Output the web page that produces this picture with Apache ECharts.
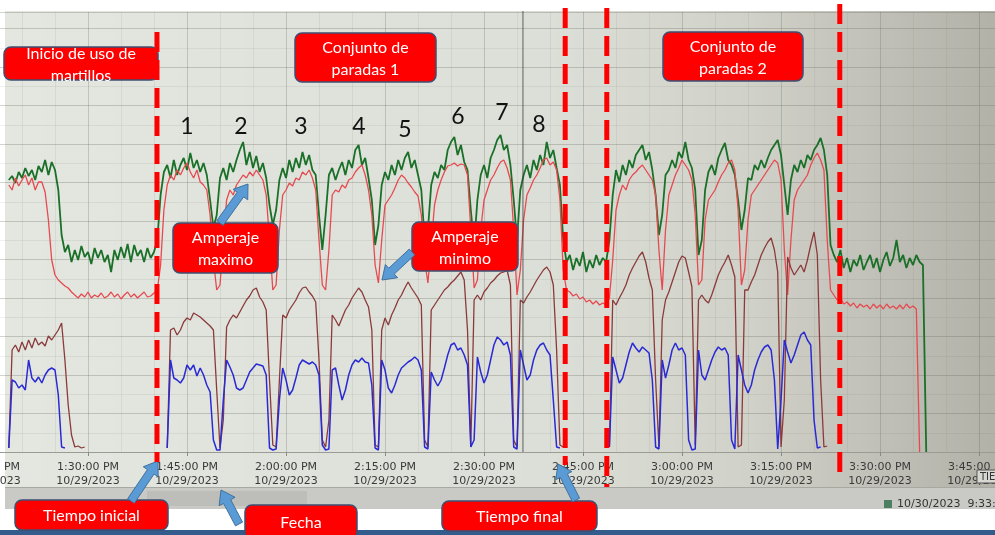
<!DOCTYPE html>
<html>
<head>
<meta charset="utf-8">
<title>Amperaje martillos 10/29/2023</title>
<script src="https://cdn.jsdelivr.net/npm/echarts@6/dist/echarts.min.js"></script>
<style>
  html, body { margin: 0; padding: 0; background: #fff; }
  #chart { width: 995px; height: 535px; }
</style>
</head>
<body>
<div id="chart"></div>
<script>
// one sample every 30 s, first sample at 1:18:00 PM (minutes since midnight)
const startMinute = 798
const stepMinutes = 0.5
const dateText = '10/29/2023'

const greenAmps = [
  68, 69, 67.25, 70, 68.5, 71, 69, 70.5, 68, 71.5,
  70, 73, 69.25, 72.5, 70.5, 65.5, 54.25, 50, 51.75, 47.5,
  50.5, 48, 51.5, 48.75, 50, 47, 51, 48.5, 50.5, 47.5,
  49.25, 45, 50.5, 48, 51.25, 48.5, 52, 47.5, 51.75, 49,
  50.5, 47.5, 51, 48.5, 50, 53, 64.25, 70, 71.75, 68.5,
  73, 69.25, 71.75, 73.5, 70.5, 74.75, 71, 73, 70, 72.25,
  69.25, 63, 56, 59.25, 68.5, 71, 68, 72.25, 70, 73,
  75.5, 77.5, 71.75, 75, 71, 74, 70, 72.25, 68.5, 61.75,
  56.75, 60.5, 68, 71, 68.5, 73, 70, 73.5, 71, 75,
  71.75, 74.25, 70.5, 69.25, 59.25, 50.5, 59.25, 69.25, 71, 68,
  70.5, 72.5, 69.25, 73, 71, 75.5, 76.75, 71.75, 73.5, 68.5,
  63, 51.75, 56.75, 66.75, 70, 68, 71.75, 69.25, 73, 70.5,
  73.5, 75, 71, 73, 69.25, 65.5, 53, 55.5, 66.75, 70,
  68.5, 71.75, 70.5, 75.5, 77.5, 78.75, 74.25, 76.75, 72.5, 70.5,
  60.5, 51.75, 63, 69.25, 71.75, 68.5, 73.5, 75.5, 78, 79.25,
  75.5, 76.75, 71.75, 63, 53, 65.5, 69.25, 71.75, 68.5, 73,
  70.5, 74.25, 71.75, 77.5, 73.5, 75.5, 71, 66.75, 53, 47.5,
  49.25, 45.5, 48.5, 46.5, 50, 45, 48, 46, 49.25, 46.75,
  48.5, 47.5, 53, 64.25, 70.5, 67.5, 71.75, 69.25, 73, 71,
  74.25, 75.5, 76.75, 73, 75, 70.5, 64.25, 54.25, 59.25, 69.25,
  70.5, 73, 71, 75, 73.5, 77.5, 73, 71, 65.5, 49.25,
  53, 65.5, 70, 71.75, 69.25, 73.5, 75.5, 77.25, 73, 71.75,
  69.25, 63, 55.5, 60.5, 68.5, 68, 71.75, 70.5, 73, 71,
  73.5, 75.5, 76.75, 78, 74.25, 66.75, 59.25, 68, 71.75, 70,
  73, 71, 74.25, 73, 75.5, 76.75, 78.5, 75.5, 69.25, 51.75,
  49.25, 47.5, 50.5, 46, 48.5, 45, 48, 46.5, 49.25, 45.5,
  47.5, 49.25, 46, 48.5, 45, 48, 50, 46.5, 48.5, 53,
  47.5, 49.25, 46, 48.5, 46.75, 49.25, 47.5, 46.75, 0
]

const redAmps = [
  66.75, 65.5, 68.5, 66.5, 68, 69.25, 66.75, 68.5, 65.5, 67.5,
  67.5, 65, 58, 48, 44.25, 43, 42.25, 41.5, 41, 40,
  39.25, 38.5, 39.5, 38.75, 40, 38.5, 39.25, 38.75, 39.75, 38.5,
  39, 40, 38.75, 39.5, 38.25, 39.25, 40, 38.75, 39.5, 38.5,
  39.25, 40, 38.75, 39, 39.75, 40.5, 46.75, 60.5, 66.75, 69.25,
  68, 70.5, 69.25, 71, 72.25, 70, 68.5, 70.5, 67.5, 66.75,
  65.5, 59.25, 48, 40.5, 41.75, 53, 63, 65.5, 64.25, 66.75,
  68, 69.25, 68.5, 70, 69, 70.5, 69.25, 68, 64.25, 53,
  40.5, 41.75, 55.5, 64.25, 65.5, 67.25, 66.5, 68.5, 68, 70,
  69.25, 70.5, 68.5, 65.5, 53, 41.75, 40.5, 50.5, 64.25, 65.5,
  65, 66.75, 66, 68, 68.5, 70, 71, 71.75, 69.25, 65.5,
  59.25, 46.75, 42.25, 53, 61.75, 63, 64.25, 66, 68, 69.25,
  68.5, 67.25, 66.25, 65, 64, 59.25, 48, 42.25, 51.75, 61.75,
  65.5, 68, 70, 71.5, 71.75, 72.25, 71.5, 72, 71.75, 69.25,
  55.5, 41, 43, 55.5, 63, 65.5, 68, 69.25, 71, 72.5,
  73, 71, 68, 55.5, 39.25, 45.5, 58, 64.25, 66, 68,
  69.25, 71, 73, 73.5, 71.75, 72.5, 70.5, 63, 45.5, 40.5,
  40, 39, 39.5, 38.25, 38.75, 37.5, 38, 37, 37.75, 36.75,
  37.25, 36.75, 38.5, 48, 60.5, 64.25, 66.75, 65.5, 68, 69.25,
  70, 71, 71.75, 70.5, 69.25, 68, 64.25, 50.5, 40.5, 55.5,
  64.25, 66.75, 69.25, 71, 73, 71.75, 70.5, 68, 59.25, 41.75,
  43, 58, 63, 64.25, 65.5, 67.5, 69.25, 70.5, 72.25, 73,
  70.5, 60.5, 41.75, 45.5, 58, 64.25, 65.5, 66.75, 68, 69.25,
  70.5, 71.75, 73, 72.25, 68, 50.5, 39.25, 53, 63, 65.5,
  66.75, 68, 69.25, 71.75, 73.5, 74.75, 73, 70.5, 53, 40.5,
  39.25, 38, 38.5, 37, 37.5, 36.5, 37.25, 36, 37, 36.25,
  36.75, 35.75, 37, 36, 36.75, 35.75, 37, 36, 36.5, 35.75,
  36.75, 35.75, 37, 36, 36.5, 35.75, 0, null, null
]

const brownAmps = [
  1, 25.5, 26.75, 25, 27.5, 25.5, 28, 26, 28.5, 26.75,
  27.5, 26.5, 29, 28, 29.25, 30.5, 32.25, 23, 11.75, 4.25,
  1.25, 1.5, 1, 1.25, null, null, null, null, null, null,
  null, null, null, null, null, null, null, null, null, null,
  null, null, null, null, null, null, null, null, 1, 30.5,
  31, 29.25, 30.5, 32.5, 33.5, 33, 34.75, 34.25, 33.75, 33,
  32.25, 31.5, 30.5, 15.5, 1, 8, 31.25, 33, 34.25, 33.5,
  35, 36.5, 38, 39, 40.5, 41, 38.75, 37.5, 35.5, 18,
  1.75, 1.25, 18, 34.25, 33.5, 35.5, 36.75, 38, 39.75, 41,
  41.25, 40, 39, 37.5, 23, 3, 1.25, 8, 34.25, 33,
  31.5, 33.5, 35.5, 36.75, 38.5, 39.75, 41, 40, 38, 36.25,
  30.5, 1.75, 1.25, 30.5, 33.5, 31.75, 34.25, 36, 38, 39.25,
  41, 42.5, 41, 39.75, 38.5, 36.75, 3, 1.25, 35.5, 36.75,
  38, 39.25, 40.5, 41.25, 42.25, 43, 44, 45, 43, 30.5,
  1.25, 38, 39.25, 38, 40, 41, 42.25, 43, 44, 44.75,
  45, 45.5, 41.75, 3, 1.25, 38, 37.25, 38.75, 40, 41.5,
  43, 44.25, 45.5, 46.25, 45, 41.75, 25.5, 1.75, 1.25, null,
  null, null, null, null, null, null, null, null, null, null,
  null, null, 1.25, 38, 36.75, 38.5, 40, 41.75, 44.25, 46,
  47.5, 49, 50, 47.5, 43.5, 40.5, 18, 1.25, 33, 38,
  40, 42.5, 45, 47.5, 49, 48.5, 45, 41.25, 1.75, 38,
  39.25, 38, 37.25, 39.25, 41.75, 44.25, 46, 47.5, 49.25, 46.75,
  43.75, 1.25, 1.75, 40.5, 40.5, 42.5, 44.25, 46.75, 49.25, 51,
  52.5, 53.5, 50.5, 45, 1.25, 13, 48.75, 46, 44.25, 45.5,
  46.75, 45, 48, 51.75, 55, 49.25, 18, 1.25, 1.5, null,
  null, null, null, null, null, null, null, null, null, null,
  null, null, null, null, null, null, null, null, null, null,
  null, null, null, null, null, null, null, null, null
]

const blueAmps = [
  1, 18, 17.5, 16, 16.75, 15.5, 23, 18.5, 17.5, 18.75,
  17.25, 19.25, 20.5, 21, 20.5, 14.25, 1.25, 1, null, null,
  null, null, null, null, null, null, null, null, null, null,
  null, null, null, null, null, null, null, null, null, null,
  null, null, null, null, null, null, null, null, 1, 23,
  18.5, 18, 17.25, 18.5, 21.75, 20.5, 21.75, 19, 21, 19.25,
  16.75, 15, 3, 0.5, 0.5, 13, 23, 21.25, 19.25, 16,
  15.5, 16, 18, 20, 21, 22, 21.75, 21.5, 19.25, 1,
  0.5, 0.75, 13, 21, 18, 14.25, 15.5, 18.5, 21.75, 23,
  22.5, 22, 22.5, 21.75, 19.25, 1.75, 0.5, 0.75, 20.5, 21,
  16.75, 13, 15.5, 19.25, 21.75, 23, 22.5, 23.5, 22.5, 22.25,
  16.75, 1, 0.5, 23, 20.5, 16, 14.75, 16.75, 19.25, 21,
  21.75, 22.5, 23, 23.75, 23, 20.5, 1.25, 0.75, 20, 18,
  16.5, 18, 21, 24.25, 26.75, 27.25, 25.5, 26, 24.25, 21.75,
  1.25, 3, 23.75, 20, 17.25, 19.25, 23, 26.75, 28.75, 28,
  26.75, 27.5, 24.25, 1.25, 0.75, 25.5, 21.75, 18, 19.25, 23,
  25.5, 26.75, 27.25, 25.5, 24.25, 13, 1.25, 1, null, null,
  null, null, null, null, null, null, null, null, null, null,
  null, null, 1.25, 23.75, 20.5, 17.25, 18.5, 21.75, 25, 27.25,
  26, 25, 26.25, 25.5, 24.75, 18, 1.25, 0.75, 23, 18.5,
  21.75, 25.5, 27.25, 25.5, 26, 24.25, 3, 0.5, 0.75, 25.5,
  19.25, 18, 20.5, 23, 25, 26.25, 25.5, 26, 24.25, 3,
  0.75, 24.25, 20.5, 16.75, 14.75, 16.75, 20.5, 23, 25, 26.25,
  26.75, 25.5, 18, 0.75, 13, 28, 25, 22.25, 24.25, 26.75,
  29.25, 30, 28, 26.75, 8, 1, 1.25, null, null, null,
  null, null, null, null, null, null, null, null, null, null,
  null, null, null, null, null, null, null, null, null, null,
  null, null, null, null, null, null, null, null, null
]

// red dashed markers and the trend cursor (minutes since midnight)
const markerMinutes = [820.45, 882.3, 888.6, 923.9]
const cursorMinute = 875.9
const stopLabels = ['1', '2', '3', '4', '5', '6', '7', '8']

const toPairs = (values) => values.map((v, i) => [startMinute + i * stepMinutes, v])

const fmtTime = (m) => {
  const h = Math.floor(m / 60)
  const mm = Math.round(m % 60)
  const h12 = h > 12 ? h - 12 : h
  return `${h12}:${String(mm).padStart(2, '0')}:00 ${h >= 12 ? 'PM' : 'AM'}\n${dateText}`
}

const line = (name, values, color, width) => ({
  name,
  type: 'line',
  data: toPairs(values),
  showSymbol: false,
  symbol: 'none',
  connectNulls: false,
  lineStyle: { color, width },
  itemStyle: { color },
})

const chart = echarts.init(document.getElementById('chart'))

chart.setOption({
  animation: false,
  backgroundColor: '#ffffff',
  grid: { left: -11, right: 0, top: 12, bottom: 83, containLabel: false, outerBoundsMode: 'none' },
  xAxis: {
    type: 'value',
    min: 795,
    max: 947.42,
    interval: 15,
    axisLine: { show: true, lineStyle: { color: '#9b9b95' } },
    axisTick: { show: true, length: 4, lineStyle: { color: '#8a8a85' } },
    axisLabel: {
      formatter: fmtTime,
      showMaxLabel: false,
      color: '#3a3a3a',
      fontFamily: 'DejaVu Sans',
      fontSize: 11,
      lineHeight: 14,
      margin: 8,
    },
    splitLine: { show: true, lineStyle: { color: 'rgba(105,105,95,0.28)' } },
    minorTick: { show: false, splitNumber: 3 },
    minorSplitLine: { show: true, lineStyle: { color: 'rgba(105,105,95,0.1)' } },
  },
  yAxis: {
    type: 'value',
    min: 0,
    max: 110,
    interval: 9.625,
    axisLine: { show: false },
    axisTick: { show: false },
    axisLabel: { show: false },
    splitLine: { show: true, lineStyle: { color: 'rgba(105,105,95,0.3)' } },
    minorTick: { show: false, splitNumber: 2 },
    minorSplitLine: { show: true, lineStyle: { color: 'rgba(105,105,95,0.1)' } },
  },
  series: [
    line('Verde', greenAmps, '#1a7028', 1.8),
    line('Rojo', redAmps, '#e64a50', 1.3),
    line('Café', brownAmps, '#8a3a3a', 1.3),
    line('Azul', blueAmps, '#2a2ad4', 1.5),
  ],
})

const xPx = (m) => chart.convertToPixel({ xAxisIndex: 0 }, m)

const redBox = (x, y, w, h, text) => [
  {
    type: 'rect',
    z: 100,
    shape: { x, y, width: w, height: h, r: 7 },
    style: { fill: '#ff0000', stroke: '#3e4f72', lineWidth: 1.5 },
  },
  {
    type: 'text',
    z: 101,
    style: {
      text,
      x: x + w / 2,
      y: y + h / 2 + 1,
      fill: '#ffffff',
      font: '16px Lato',
      lineHeight: 22,
      align: 'center',
      verticalAlign: 'middle',
      textAlign: 'center',
      textVerticalAlign: 'middle',
    },
  },
]

const arrow = (x1, y1, x2, y2) => {
  const len = Math.hypot(x2 - x1, y2 - y1)
  const ux = (x2 - x1) / len
  const uy = (y2 - y1) / len
  const px = -uy
  const py = ux
  const head = 13
  const hw = 9
  const sw = 4
  const bx = x2 - ux * head
  const by = y2 - uy * head
  return {
    type: 'polygon',
    z: 105,
    shape: {
      points: [
        [x1 + px * sw, y1 + py * sw],
        [bx + px * sw, by + py * sw],
        [bx + px * hw, by + py * hw],
        [x2, y2],
        [bx - px * hw, by - py * hw],
        [bx - px * sw, by - py * sw],
        [x1 - px * sw, y1 - py * sw],
      ],
    },
    style: { fill: '#5b9bd5', stroke: '#41719c', lineWidth: 1 },
  }
}

// dashed markers drawn as short red rects
const dashTops = [32, 8, 8, 4]
const dashBottoms = [462, 465, 487, 480]
const dashLines = []
markerMinutes.forEach((m, i) => {
  const x = xPx(m)
  for (let y = dashTops[i]; y < dashBottoms[i]; y += 28) {
    dashLines.push({
      type: 'rect',
      z: 110,
      shape: { x: x - 2.5, y, width: 5, height: Math.min(20, dashBottoms[i] - y) },
      style: { fill: '#ff0000' },
    })
  }
})

// screen tone of the photo, left to right, painted as narrow strips
const toneStops = [[0, [227, 231, 224]], [0.55, [220, 223, 215]], [0.75, [208, 209, 200]], [0.88, [193, 192, 184]], [1, [178, 177, 168]]]
const toneAt = (t) => {
  let k = 0
  while (k < toneStops.length - 2 && t > toneStops[k + 1][0]) k++
  const [t0, c0] = toneStops[k]
  const [t1, c1] = toneStops[k + 1]
  const f = Math.min(1, Math.max(0, (t - t0) / (t1 - t0)))
  const c = c0.map((v, j) => Math.round(v + (c1[j] - v) * f))
  return `rgb(${c[0]},${c[1]},${c[2]})`
}
const screenStrips = []
for (let x = 5; x < 995; x += 6) {
  screenStrips.push({
    type: 'rect',
    z: -100,
    silent: true,
    shape: { x, y: 11, width: 6.5, height: 476 },
    style: { fill: toneAt((x - 5) / 990) },
  })
}

chart.setOption({
  graphic: {
    elements: [
      ...screenStrips,
      {
        type: 'rect',
        z: -98,
        shape: { x: 5, y: 487, width: 990, height: 1 },
        style: { fill: '#a8a8a2' },
      },
      {
        type: 'rect',
        z: -98,
        shape: { x: 5, y: 488, width: 990, height: 21 },
        style: { fill: '#c9cac5' },
      },
      {
        type: 'rect',
        z: -97,
        shape: { x: 147, y: 491, width: 160, height: 15 },
        style: { fill: '#bdbeb9' },
      },
      {
        type: 'rect',
        z: -97,
        shape: { x: 0, y: 530, width: 995, height: 5 },
        style: { fill: '#335c8c' },
      },
      {
        type: 'rect',
        z: 50,
        shape: { x: 884, y: 500, width: 8, height: 8 },
        style: { fill: '#4f7f62' },
      },
      {
        type: 'text',
        z: 50,
        style: { text: '10/30/2023  9:33:08', x: 897, y: 504, fill: '#333333', font: '11px "DejaVu Sans"', verticalAlign: 'middle', textVerticalAlign: 'middle' },
      },
      {
        type: 'rect',
        z: 50,
        shape: { x: 977, y: 470, width: 22, height: 13 },
        style: { fill: '#d8d8d2', stroke: '#555555', lineWidth: 1 },
      },
      {
        type: 'text',
        z: 51,
        style: { text: 'TIE', x: 980, y: 477, fill: '#333333', font: '10px "DejaVu Sans"', verticalAlign: 'middle', textVerticalAlign: 'middle' },
      },
      // trend cursor
      {
        type: 'rect',
        z: 60,
        shape: { x: xPx(cursorMinute) - 0.5, y: 11, width: 1, height: 441 },
        style: { fill: 'rgba(55,55,55,0.75)' },
      },
      ...stopTexts(),
      ...redBox(4, 47, 154, 33, 'Inicio de uso de\nmartillos'),
      ...redBox(295, 33, 141, 49, 'Conjunto de\nparadas 1'),
      ...redBox(663, 32, 140, 49, 'Conjunto de\nparadas 2'),
      ...redBox(173, 223, 105, 50, 'Amperaje\nmaximo'),
      ...redBox(412, 222, 106, 49, 'Amperaje\nminimo'),
      ...redBox(15, 500, 153, 30, 'Tiempo inicial'),
      ...redBox(245, 505, 112, 34, 'Fecha'),
      ...redBox(442, 501, 155, 30, 'Tiempo final'),
      arrow(220, 223, 248, 184),
      arrow(412, 252, 382, 280),
      arrow(131, 501, 158, 461),
      arrow(239, 524, 221, 490),
      arrow(576, 500, 558, 464),
      ...dashLines,
    ],
  },
})

function stopTexts() {
  const stopPos = [[187, 127], [241, 127], [301, 127], [359, 127], [405, 130], [458, 117], [502, 113], [539, 125]]
  return stopLabels.map((s, i) => ({
    type: 'text',
    z: 100,
    style: {
      text: s,
      x: stopPos[i][0],
      y: stopPos[i][1],
      fill: '#111111',
      font: '23px Lato',
      align: 'center',
      verticalAlign: 'middle',
      textAlign: 'center',
      textVerticalAlign: 'middle',
    },
  }))
}

window.addEventListener('resize', () => chart.resize())
</script>
</body>
</html>
